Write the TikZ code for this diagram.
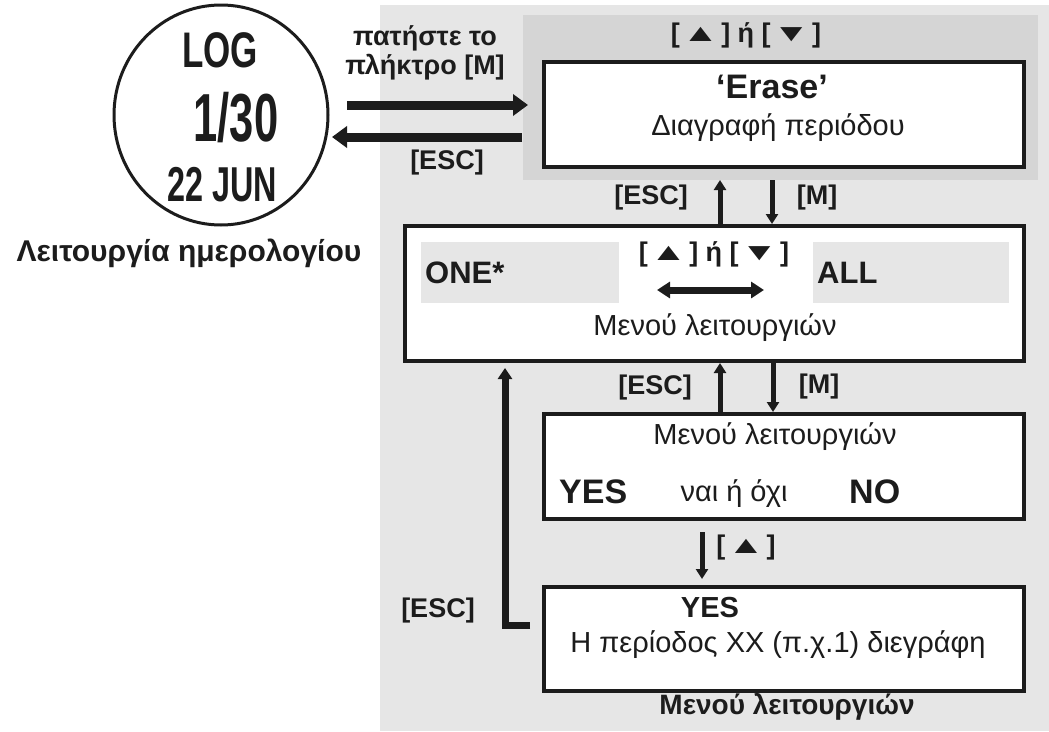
\documentclass[tikz,border=0pt]{standalone}
\usepackage{fontspec}
\setmainfont{Liberation Sans}
\usetikzlibrary{arrows.meta,shapes.geometric}
\definecolor{outergray}{HTML}{E6E6E6}
\definecolor{panelgray}{HTML}{D5D5D5}
\definecolor{ink}{HTML}{1C1C1C}
\newcommand{\setfs}[1]{\fontsize{#1pt}{#1pt}\selectfont}
\newcommand{\keytri}[1]{\raisebox{1pt}{\scalebox{2.1}[1.35]{\setfs{18}#1}}}
\newcommand{\upkey}{[\hspace{2pt}\keytri{▲}\hspace{2pt}]}
\newcommand{\downkey}{[\hspace{2pt}\keytri{▼}\hspace{2pt}]}
\begin{document}
\begin{tikzpicture}[x=1pt,y=-1pt,
  box/.style={draw=ink, line width=4pt, fill=white, inner sep=0pt},
  keylabel/.style={text=ink, inner sep=0pt, font=\bfseries\setfs{27}},
  body/.style={text=ink, inner sep=0pt, font=\setfs{29}},
  bigword/.style={text=ink, inner sep=0pt, font=\bfseries\setfs{34}},
  lcd/.style={text=ink, inner sep=0pt},
  bigarrow/.style={draw=ink, line width=9pt, -{Triangle[length=15pt,width=21pt]}},
  thinarrow/.style={draw=ink, line width=5pt, -{Triangle[length=10pt,width=12pt]}},
  looparrow/.style={draw=ink, line width=7pt, -{Triangle[length=11pt,width=14pt]}}]
\useasboundingbox (0,0) rectangle (1049,731);
\fill[white] (0,0) rectangle (1049,731);
% light background of the menu area
\fill[outergray] (380,5) rectangle (1049,731);
% darker panel behind the first menu screen
\fill[panelgray] (523,15) rectangle (1038,180);

% watch display
\node[draw=ink, line width=3pt, ellipse, minimum width=214pt, minimum height=220pt, inner sep=0pt]
  (watch) at (221,115) {};
\node[lcd] (log) at (220,50) {\scalebox{0.7}[1]{\bfseries\setfs{50}LOG}};
\node[lcd] (num) at (236,118) {\scalebox{0.64}[1]{\bfseries\setfs{68}1/30}};
\node[lcd] (date) at (222,185) {\scalebox{0.66}[1]{\bfseries\setfs{49}22 JUN}};
\node[text=ink, inner sep=0pt, font=\bfseries\setfs{30}] (logmode) at (189,253) {Λειτουργία ημερολογίου};

% menu screens
\node[box, anchor=north west, minimum width=480pt, minimum height=105pt] (erase) at (542,60) {};
\node[box, anchor=north west, minimum width=619pt, minimum height=135pt] (select) at (403,224) {};
\node[box, anchor=north west, minimum width=480pt, minimum height=105pt] (confirm) at (542,412) {};
\node[box, anchor=north west, minimum width=480pt, minimum height=104pt] (done) at (542,585) {};

% option fields inside the selection screen
\node[fill=outergray, anchor=north west, minimum width=198pt, minimum height=61pt, inner sep=0pt] (onefield) at (421,242) {};
\node[fill=outergray, anchor=north west, minimum width=196pt, minimum height=61pt, inner sep=0pt] (allfield) at (813,242) {};

% texts of the first screen
\node[keylabel] (updown1) at (746,35) {\upkey\ ή \downkey};
\node[bigword] (erasetxt) at (772,87) {‘Erase’};
\node[body] (erasesub) at (778,128) {Διαγραφή περιόδου};

% texts of the selection screen
\node[text=ink, inner sep=0pt, font=\bfseries\setfs{31}, anchor=west] (one) at (425,273) {ONE*};
\node[text=ink, inner sep=0pt, font=\bfseries\setfs{31}, anchor=west] (all) at (817,273) {ALL};
\node[keylabel] (updown2) at (714,254) {\upkey\ ή \downkey};
\coordinate (dl) at (657,290);
\coordinate (dr) at (764,290);
\node[body] (menu1) at (715,328) {Μενού λειτουργιών};

% texts of the confirmation screen
\node[body] (menu2) at (775,437) {Μενού λειτουργιών};
\node[text=ink, inner sep=0pt, font=\bfseries\setfs{34}, anchor=west] (yes1) at (559,492) {YES};
\node[body] (yesno) at (734,494) {ναι ή όχι};
\node[text=ink, inner sep=0pt, font=\bfseries\setfs{34}, anchor=west] (no) at (849,492) {NO};

% texts of the final screen
\node[text=ink, inner sep=0pt, font=\bfseries\setfs{29}] (yes2) at (710,608) {YES};
\node[body] (deleted) at (778,645) {Η περίοδος XX (π.χ.1) διεγράφη};
\node[text=ink, inner sep=0pt, font=\bfseries\setfs{28}] (menu3) at (787,707) {Μενού λειτουργιών};

% key labels along the connectors
\node[keylabel, align=center] (pressm) at (425,53) {πατήστε το\\[2pt]πλήκτρο [M]};
\node[keylabel] (esc0) at (447,163) {[ESC]};
\node[keylabel] (esc1) at (651,198) {[ESC]};
\node[keylabel] (m1) at (817,198) {[M]};
\node[keylabel] (esc2) at (655,388) {[ESC]};
\node[keylabel] (m2) at (819,387) {[M]};
\node[keylabel] (upkey3) at (746,548) {\upkey};
\node[keylabel] (esc3) at (438,611) {[ESC]};

% connectors between watch and first screen
\coordinate (in1) at (347,105);
\coordinate (in2) at (528,105);
\coordinate (out1) at (522,137);
\coordinate (out2) at (332,137);
\draw[bigarrow] (in1) -- (in2);
\draw[bigarrow] (out1) -- (out2);

% first screen <-> selection screen
\coordinate (u1) at (720,224);
\coordinate (u1e) at (720,180);
\coordinate (d1) at (772,180);
\draw[thinarrow] (u1) -- (u1e);
\draw[thinarrow] (d1) -- (d1 |- select.north);

% selection screen <-> confirmation screen
\coordinate (u2) at (720,412);
\coordinate (d2) at (773,359);
\draw[thinarrow] (u2) -- (u2 |- select.south);
\draw[thinarrow] (d2) -- (d2 |- confirm.north);

% confirmation -> final screen
\coordinate (d3) at (702,532);
\coordinate (d3e) at (702,579);
\draw[thinarrow] (d3) -- (d3e);

% escape loop from the final screen back to the selection screen
\coordinate (lp) at (530,625);
\coordinate (lc) at (505,625);
\coordinate (lt) at (505,368);
\draw[looparrow] (lp) -- (lc) -- (lt);

% left/right toggle inside the selection screen
\draw[draw=ink, line width=7pt, {Triangle[length=13pt,width=16pt]}-{Triangle[length=13pt,width=16pt]}] (dl) -- (dr);
\end{tikzpicture}
\end{document}
